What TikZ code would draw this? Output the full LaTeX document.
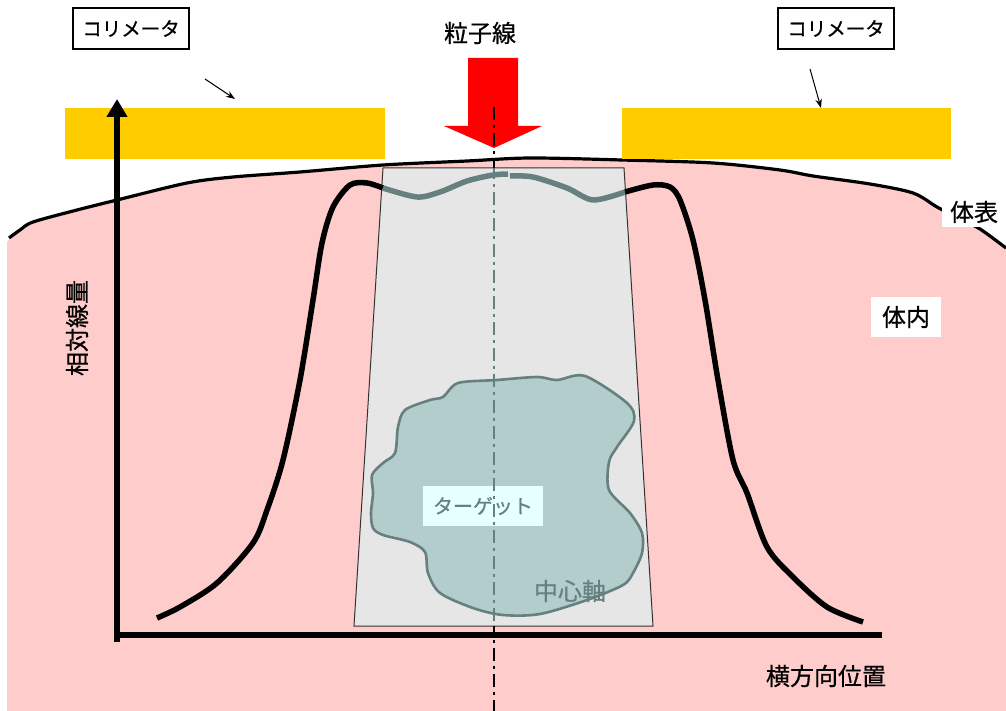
\documentclass[tikz,border=0pt]{standalone}
\usepackage{fontspec}
\setmainfont{Noto Sans CJK JP}[FakeBold=0.6]
\usetikzlibrary{arrows.meta}
\definecolor{bodypink}{HTML}{FFCCCC}
\definecolor{collyellow}{HTML}{FFCC00}
\definecolor{beamred}{HTML}{FF0000}
\definecolor{fieldgray}{HTML}{E6E6E6}
\definecolor{targetfill}{HTML}{B3CCCC}
\definecolor{teal}{HTML}{668080}
\definecolor{labelcyan}{HTML}{E6FFFF}
\tikzset{
  lab/.style={font=\fontsize{24}{28}\selectfont, inner sep=0pt},
  boxlab/.style={draw=black, line width=1.4pt, fill=white, font=\fontsize{19.5}{23}\selectfont, minimum width=116pt, minimum height=41pt, inner sep=0pt},
  whitelab/.style={fill=white, font=\fontsize{24}{28}\selectfont, inner sep=0pt},
  pointer/.style={line width=1pt, -{Stealth[length=9pt,width=6.5pt]}},
  axisline/.style={line width=6.5pt},
  dosecurve/.style={line width=5.5pt, line join=round},
  centreline/.style={line width=2.2pt, dash pattern=on 13pt off 5pt on 3pt off 5pt},
}
\begin{document}
\begin{tikzpicture}[x=1pt,y=-1pt]
\useasboundingbox (0,0) rectangle (1006,711);
% body
\fill[bodypink] plot[smooth] coordinates {(7,242) (20,230) (33,222) (77,210) (117,200) (187,183) (233,177) (300,172) (383,165) (467,161) (530,158) (622,160) (713,163) (780,170) (813,176) (870,184) (913,193) (937,207) (960,219) (980,229) (1006,248)} -- (1006,711) -- (7,711) -- cycle;
\draw[line width=3.2pt, line join=round] plot[smooth] coordinates {(9,238) (20,230) (33,222) (77,210) (117,200) (187,183) (233,177) (300,172) (383,165) (467,161) (530,158) (622,160) (713,163) (780,170) (813,176) (870,184) (913,193) (937,207) (960,219) (980,229) (1006,248)};
% collimators
\fill[collyellow] (65,108) rectangle (385,159);
\fill[collyellow] (622,108) rectangle (951,159);
% beam arrow
\fill[beamred] (468,58) -- (518,58) -- (518,126) -- (542,126) -- (494,148) -- (444,126) -- (468,126) -- cycle;
% field
\filldraw[fill=fieldgray, draw=black!80, line width=1pt] (383,168) -- (624,168) -- (653,626) -- (354,626) -- cycle;
% target
\filldraw[fill=targetfill, draw=teal, line width=2.6pt, line join=round] plot[smooth cycle, tension=0.5] coordinates {(458,383) (497,380) (537,377) (557,380) (585,376) (627,403) (634,421) (617,447) (609,462) (609,490) (630,513) (642,533) (642,553) (633,573) (623,585) (587,600) (540,614) (503,615) (473,608) (440,593) (428,573) (425,552) (410,542) (383,535) (373,528) (371,513) (373,493) (372,475) (383,463) (395,453) (398,427) (405,410) (430,400) (443,397)};
% dose profile
\draw[dosecurve] plot[smooth] coordinates {(157,618) (180,607) (217,583) (253,543) (267,510) (283,460) (300,380) (313,300) (322,243) (333,207) (350,185) (367,183) (383,188)};
\draw[dosecurve, teal] plot[smooth] coordinates {(383,188) (417,197) (440,192) (467,181) (493,175) (508,174)};
\draw[dosecurve, teal] plot[smooth] coordinates {(510,176) (533,177) (567,188) (593,200) (625,192)};
\draw[dosecurve] plot[smooth] coordinates {(625,192) (653,185) (670,187) (680,200) (693,240) (705,300) (718,380) (733,460) (747,493) (767,547) (793,577) (827,607) (863,622)};
% labels
\node[boxlab] (colL) at (131,28.5) {コリメータ};
\node[boxlab] (colR) at (836,28.5) {コリメータ};
\node[lab] (beam) at (480,33) {粒子線};
\node[whitelab, minimum width=65pt, minimum height=31pt] (surf) at (974,212) {体表};
\node[whitelab, minimum width=70pt, minimum height=40pt] (inside) at (906,317) {体内};
\node[fill=labelcyan, text=teal, font=\fontsize{20}{24}\selectfont, minimum width=120pt, minimum height=40pt, inner sep=0pt] (tgt) at (483,506) {ターゲット};
% centre line
\coordinate (clTop) at (494,107);
\coordinate (clA) at (494,168);
\coordinate (clB) at (494,626);
\coordinate (clBot) at (494,711);
\draw[centreline] (clTop) -- (clA);
\draw[centreline, teal, dash phase=2pt] (clA) -- (clB);
\draw[centreline, dash phase=4pt] (clB) -- (clBot);
\node[text=teal, font=\fontsize{24}{28}\selectfont, inner sep=0pt] (axislab) at (570,591) {中心軸};
% axes
\coordinate (origin) at (117,642);
\coordinate (ytip) at (117,99);
\coordinate (xo) at (114,635);
\coordinate (xend) at (882,635);
\draw[axisline, -{Triangle[length=18pt,width=20pt]}] (origin) -- (ytip);
\draw[axisline] (xo) -- (xend);
\node[lab, rotate=90] (ylab) at (77,328) {相対線量};
\node[lab] (xlab) at (826,676) {横方向位置};
% pointers
\coordinate (pL1) at (205,79);
\coordinate (pL2) at (235,99);
\coordinate (pR1) at (810,69);
\coordinate (pR2) at (821,108);
\draw[pointer] (pL1) -- (pL2);
\draw[pointer] (pR1) -- (pR2);
\end{tikzpicture}
\end{document}
